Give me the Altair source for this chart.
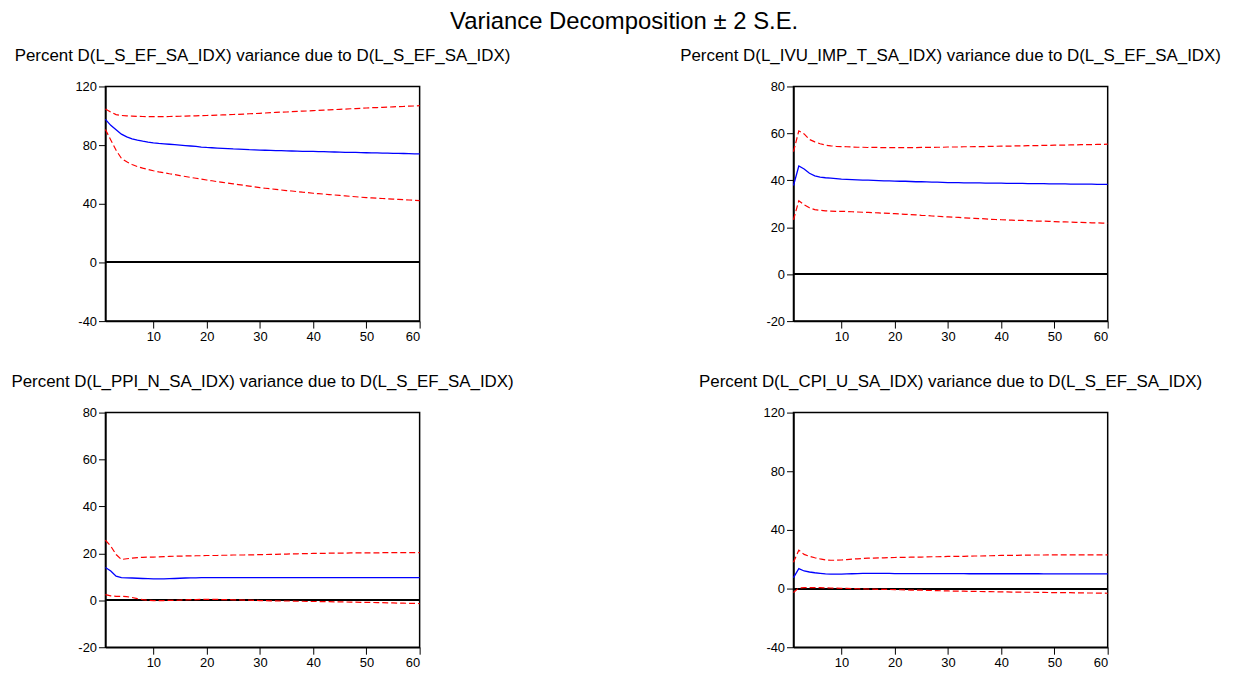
import altair as alt
import pandas as pd

FONT = "Liberation Sans"

periods = list(range(1, 61))

# Panel 1: D(L_S_EF_SA_IDX) due to D(L_S_EF_SA_IDX)
p1_mean = [97.6, 93.5, 90.5, 87.5, 85.6, 84.3, 83.4, 82.7, 82.1, 81.6,
           81.2, 80.9, 80.6, 80.3, 80.0, 79.7, 79.4, 79.1, 78.7, 78.4,
           78.2, 78.0, 77.8, 77.6, 77.4, 77.3, 77.1, 76.9, 76.8, 76.6,
           76.5, 76.4, 76.3, 76.2, 76.1, 76.0, 75.9, 75.8, 75.8, 75.7,
           75.6, 75.5, 75.4, 75.3, 75.2, 75.1, 75.0, 75.0, 74.9, 74.8,
           74.7, 74.7, 74.6, 74.5, 74.4, 74.4, 74.3, 74.2, 74.1, 74.0]
p1_upper = [104.6, 102.5, 100.8, 100.2, 100.0, 99.8, 99.6, 99.5, 99.4, 99.4,
            99.4, 99.4, 99.5, 99.6, 99.7, 99.8, 99.9, 100.0, 100.1, 100.2,
            100.3, 100.5, 100.6, 100.7, 100.9, 101.0, 101.2, 101.4, 101.5, 101.7,
            101.9, 102.1, 102.3, 102.5, 102.6, 102.8, 103.0, 103.2, 103.3, 103.5,
            103.7, 103.9, 104.0, 104.2, 104.4, 104.6, 104.8, 104.9, 105.1, 105.3,
            105.5, 105.6, 105.8, 105.9, 106.1, 106.3, 106.4, 106.6, 106.7, 106.9]
p1_lower = [90.6, 83.5, 76.5, 71.0, 68.6, 66.8, 65.4, 64.3, 63.4, 62.5,
            61.8, 61.2, 60.5, 59.9, 59.2, 58.6, 58.0, 57.4, 56.8, 56.2,
            55.7, 55.1, 54.6, 54.1, 53.6, 53.1, 52.6, 52.1, 51.6, 51.0,
            50.6, 50.2, 49.8, 49.4, 49.0, 48.7, 48.3, 47.9, 47.6, 47.2,
            46.9, 46.6, 46.3, 46.0, 45.7, 45.4, 45.1, 44.8, 44.5, 44.2,
            44.0, 43.8, 43.6, 43.4, 43.2, 43.0, 42.8, 42.6, 42.4, 42.2]

# Panel 2: D(L_IVU_IMP_T_SA_IDX)
p2_mean = [37.8, 46.1, 44.8, 43.0, 41.9, 41.4, 41.1, 40.9, 40.7, 40.5,
           40.4, 40.3, 40.2, 40.1, 40.1, 40.0, 39.9, 39.8, 39.8, 39.7,
           39.6, 39.6, 39.5, 39.4, 39.4, 39.3, 39.2, 39.2, 39.1, 39.0,
           39.0, 39.0, 38.9, 38.9, 38.9, 38.9, 38.8, 38.8, 38.8, 38.8,
           38.7, 38.7, 38.7, 38.7, 38.6, 38.6, 38.6, 38.6, 38.5, 38.5,
           38.5, 38.5, 38.4, 38.4, 38.4, 38.4, 38.4, 38.3, 38.3, 38.3]
p2_upper = [52.2, 61.1, 59.8, 57.4, 56.4, 55.6, 55.0, 54.7, 54.5, 54.4,
            54.3, 54.2, 54.1, 54.1, 54.0, 54.0, 54.0, 53.9, 53.9, 53.9,
            53.9, 53.9, 53.9, 53.9, 54.0, 54.0, 54.0, 54.1, 54.1, 54.2,
            54.2, 54.2, 54.3, 54.3, 54.4, 54.4, 54.4, 54.5, 54.5, 54.6,
            54.6, 54.6, 54.7, 54.7, 54.8, 54.8, 54.8, 54.9, 54.9, 55.0,
            55.0, 55.0, 55.1, 55.1, 55.2, 55.2, 55.2, 55.3, 55.3, 55.4]
p2_lower = [23.2, 31.3, 29.6, 28.3, 27.5, 27.2, 27.0, 26.9, 26.8, 26.8,
            26.7, 26.6, 26.5, 26.4, 26.3, 26.2, 26.1, 26.0, 25.9, 25.8,
            25.7, 25.5, 25.4, 25.3, 25.1, 25.0, 24.8, 24.7, 24.5, 24.4,
            24.3, 24.2, 24.0, 23.9, 23.8, 23.7, 23.6, 23.4, 23.3, 23.2,
            23.1, 23.0, 22.9, 22.9, 22.8, 22.7, 22.6, 22.6, 22.5, 22.4,
            22.3, 22.3, 22.2, 22.1, 22.1, 22.0, 21.9, 21.9, 21.8, 21.7]

# Panel 3: D(L_PPI_N_SA_IDX)
p3_mean = [14.0, 12.5, 10.3, 9.7, 9.6, 9.5, 9.4, 9.3, 9.2, 9.1,
           9.1, 9.1, 9.2, 9.3, 9.4, 9.5, 9.6, 9.6, 9.7, 9.7,
           9.7, 9.7, 9.7, 9.7, 9.7, 9.7, 9.7, 9.7, 9.7, 9.7,
           9.7, 9.7, 9.7, 9.7, 9.7, 9.7, 9.7, 9.7, 9.7, 9.7,
           9.7, 9.7, 9.7, 9.7, 9.7, 9.7, 9.7, 9.7, 9.7, 9.7,
           9.7, 9.7, 9.7, 9.7, 9.7, 9.7, 9.7, 9.7, 9.7, 9.7]
p3_upper = [25.6, 23.1, 19.5, 17.4, 17.7, 18.0, 18.2, 18.3, 18.4, 18.4,
            18.5, 18.6, 18.7, 18.8, 18.8, 18.9, 18.9, 19.0, 19.0, 19.1,
            19.1, 19.1, 19.2, 19.2, 19.3, 19.3, 19.3, 19.4, 19.4, 19.5,
            19.5, 19.6, 19.6, 19.7, 19.7, 19.8, 19.8, 19.9, 19.9, 20.0,
            20.0, 20.0, 20.1, 20.1, 20.1, 20.1, 20.2, 20.2, 20.2, 20.2,
            20.2, 20.2, 20.3, 20.3, 20.3, 20.3, 20.3, 20.3, 20.3, 20.3]
p3_lower = [2.4, 1.9, 1.7, 1.7, 1.6, 1.2, 0.7, 0.3, 0.0, -0.1,
            -0.1, -0.1, 0.0, 0.0, 0.1, 0.2, 0.3, 0.3, 0.4, 0.4,
            0.4, 0.4, 0.3, 0.3, 0.2, 0.2, 0.1, 0.1, 0.0, -0.1,
            -0.1, -0.2, -0.2, -0.3, -0.3, -0.3, -0.4, -0.4, -0.5, -0.5,
            -0.5, -0.6, -0.6, -0.7, -0.7, -0.7, -0.8, -0.8, -0.9, -0.9,
            -0.9, -1.0, -1.0, -1.1, -1.1, -1.2, -1.2, -1.3, -1.3, -1.4]

# Panel 4: D(L_CPI_U_SA_IDX)
p4_mean = [7.5, 13.6, 12.0, 11.3, 10.8, 10.4, 10.0, 9.8, 9.8, 9.9,
           10.0, 10.1, 10.2, 10.3, 10.4, 10.4, 10.4, 10.3, 10.3, 10.2,
           10.2, 10.2, 10.2, 10.2, 10.2, 10.2, 10.2, 10.2, 10.2, 10.2,
           10.2, 10.2, 10.2, 10.1, 10.1, 10.1, 10.1, 10.1, 10.1, 10.1,
           10.1, 10.1, 10.1, 10.1, 10.1, 10.1, 10.1, 10.0, 10.0, 10.0,
           10.0, 10.0, 10.0, 10.0, 10.0, 10.0, 10.0, 10.0, 10.0, 10.0]
p4_upper = [18.0, 26.2, 23.3, 22.0, 21.0, 20.2, 19.6, 19.3, 19.3, 19.5,
            19.8, 20.1, 20.3, 20.5, 20.7, 20.8, 20.9, 21.0, 21.1, 21.2,
            21.3, 21.3, 21.4, 21.5, 21.5, 21.6, 21.7, 21.7, 21.8, 21.9,
            21.9, 22.0, 22.0, 22.1, 22.2, 22.2, 22.3, 22.4, 22.5, 22.6,
            22.6, 22.7, 22.7, 22.8, 22.8, 22.9, 22.9, 22.9, 23.0, 23.0,
            23.0, 23.0, 23.0, 23.0, 23.0, 23.0, 23.0, 23.0, 23.0, 23.0]
p4_lower = [-2.7, 0.5, 0.6, 0.7, 0.7, 0.6, 0.5, 0.4, 0.3, 0.2,
            0.1, 0.0, -0.1, -0.2, -0.3, -0.4, -0.5, -0.5, -0.6, -0.7,
            -0.8, -0.9, -1.0, -1.1, -1.1, -1.2, -1.3, -1.4, -1.5, -1.6,
            -1.7, -1.7, -1.8, -1.9, -1.9, -2.0, -2.1, -2.1, -2.2, -2.3,
            -2.3, -2.4, -2.4, -2.5, -2.5, -2.5, -2.6, -2.6, -2.7, -2.7,
            -2.7, -2.8, -2.8, -2.9, -2.9, -3.0, -3.0, -3.1, -3.1, -3.2]

titles = [
    "Percent D(L_S_EF_SA_IDX) variance due to D(L_S_EF_SA_IDX)",
    "Percent D(L_IVU_IMP_T_SA_IDX) variance due to D(L_S_EF_SA_IDX)",
    "Percent D(L_PPI_N_SA_IDX) variance due to D(L_S_EF_SA_IDX)",
    "Percent D(L_CPI_U_SA_IDX) variance due to D(L_S_EF_SA_IDX)",
]
y_ticks = [
    [-40, 0, 40, 80, 120],
    [-20, 0, 20, 40, 60, 80],
    [-20, 0, 20, 40, 60, 80],
    [-40, 0, 40, 80, 120],
]
x_ticks = [10, 20, 30, 40, 50, 60]
series = [
    (p1_mean, p1_upper, p1_lower),
    (p2_mean, p2_upper, p2_lower),
    (p3_mean, p3_upper, p3_lower),
    (p4_mean, p4_upper, p4_lower),
]

W, H = 316, 236
LABEL_EXPR = "replace(datum.label, '\u2212', '-')"


def panel(i):
    m, u, l = series[i]
    df = pd.DataFrame({"period": periods, "mean": m, "upper": u, "lower": l})
    yt = y_ticks[i]
    x = alt.X("period:Q", scale=alt.Scale(domain=[1, 60], nice=False, zero=False),
              axis=alt.Axis(values=x_ticks, title=None, grid=False))
    ysc = alt.Scale(domain=[yt[0], yt[-1]], nice=False, zero=False)
    yax = alt.Axis(values=yt, title=None, grid=False, labelExpr=LABEL_EXPR)
    base = alt.Chart(df)
    zero = base.mark_rule(color="black", strokeWidth=1).encode(y=alt.datum(0, scale=ysc, axis=yax))
    mean = base.mark_line(color="#0000ff", strokeWidth=1.3).encode(x=x, y=alt.Y("mean:Q", scale=ysc, axis=yax))
    up = base.mark_line(color="#ff0000", strokeWidth=1.2, strokeDash=[6, 3]).encode(x=x, y="upper:Q")
    lo = base.mark_line(color="#ff0000", strokeWidth=1.2, strokeDash=[6, 3]).encode(x=x, y="lower:Q")
    return alt.layer(zero, mean, up, lo).properties(
        width=W, height=H,
        title=alt.TitleParams(text=titles[i], fontSize=17, font=FONT, fontWeight="normal",
                              color="black", offset=16, anchor="middle"),
    )


chart = alt.concat(
    panel(0), panel(1), panel(2), panel(3),
    columns=2,
    spacing={"row": 92, "column": 376},
    bounds="flush",
).properties(
    title=alt.TitleParams(text="Variance Decomposition \u00b1 2 S.E.", fontSize=24, font=FONT,
                          fontWeight="normal", color="black", anchor="middle", offset=12, dx=8),
    padding={"left": 2, "top": 0, "right": 5, "bottom": 2},
).configure_view(
    stroke="black", strokeWidth=1.5
).configure_axis(
    domainColor="black", domainWidth=1.5, tickColor="black", tickSize=7, tickWidth=1,
    labelFont=FONT, labelFontSize=13, labelColor="black", labelPadding=2,
)

chart.save("out.html", embed_options={"renderer": "svg", "actions": False})
